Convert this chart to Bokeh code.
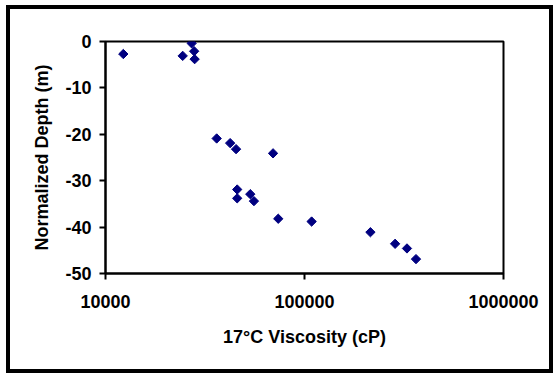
import numpy as np
from bokeh.plotting import figure
from bokeh.models import (ColumnDataSource, FixedTicker, CustomJSTickFormatter,
                          Range1d)
from bokeh.embed import file_html
from bokeh.resources import INLINE

# data
viscosity = [12290, 24430, 27100, 27900, 28050,
             36200, 42300, 45300, 69500,
             45900, 45900, 53400, 55700,
             73800, 108600, 214400, 285300, 327300, 363300]
depth = [-2.7, -3.1, -0.4, -2.1, -3.8,
         -20.9, -21.9, -23.2, -24.1,
         -31.9, -33.8, -32.9, -34.4,
         -38.2, -38.8, -41.1, -43.6, -44.6, -46.9]
x_ticks = [10000, 100000, 1000000]
y_ticks = [-50, -40, -30, -20, -10, 0]
x_title = "17°C Viscosity (cP)"
y_title = "Normalized Depth (m)"

src = ColumnDataSource(data=dict(x=viscosity, y=depth))

# canvas sits inside a 4px black border (outer chart border)
p = figure(width=539, height=360, x_axis_type="log",
           x_range=Range1d(1e4, 1e6), y_range=Range1d(-50, 0),
           output_backend="svg", toolbar_location=None,
           min_border_left=95, min_border_right=54,
           min_border_top=32, min_border_bottom=104)
p.styles = {"border": "4px solid black", "margin-left": "6px",
            "margin-top": "5px", "box-sizing": "content-box"}
p.background_fill_color = "white"
p.border_fill_color = "white"
p.outline_line_color = "black"
p.outline_line_width = 2
p.outline_line_alpha = 1.0
p.xgrid.visible = False
p.ygrid.visible = False

p.scatter("x", "y", source=src, marker="square", size=6.6, angle=np.pi / 4,
          fill_color="#000080", line_color="#000080", line_width=1)

FONT = "Liberation Sans"
for ax in (p.xaxis[0], p.yaxis[0]):
    ax.axis_line_color = "black"
    ax.axis_line_width = 2
    ax.major_tick_line_color = "black"
    ax.major_tick_line_width = 2
    ax.major_tick_out = 6
    ax.major_tick_in = 0
    ax.minor_tick_line_color = None
    ax.major_label_text_font = FONT
    ax.major_label_text_font_style = "bold"
    ax.major_label_text_font_size = "18px"
    ax.major_label_text_color = "black"
    ax.axis_label_text_font = FONT
    ax.axis_label_text_font_style = "bold"
    ax.axis_label_text_font_size = "18px"
    ax.axis_label_text_color = "black"

p.xaxis.ticker = FixedTicker(ticks=x_ticks)
p.xaxis.formatter = CustomJSTickFormatter(code="return Math.round(tick).toString();")
p.xaxis.axis_label = x_title
p.xaxis.major_label_standoff = 15
p.xaxis.axis_label_standoff = 16

p.yaxis.ticker = FixedTicker(ticks=y_ticks)
p.yaxis.formatter = CustomJSTickFormatter(code="return Math.round(tick).toString();")
p.yaxis.axis_label = y_title
p.yaxis.major_label_standoff = 8
p.yaxis.axis_label_standoff = 10

open("out.html", "w").write(file_html(p, INLINE))
